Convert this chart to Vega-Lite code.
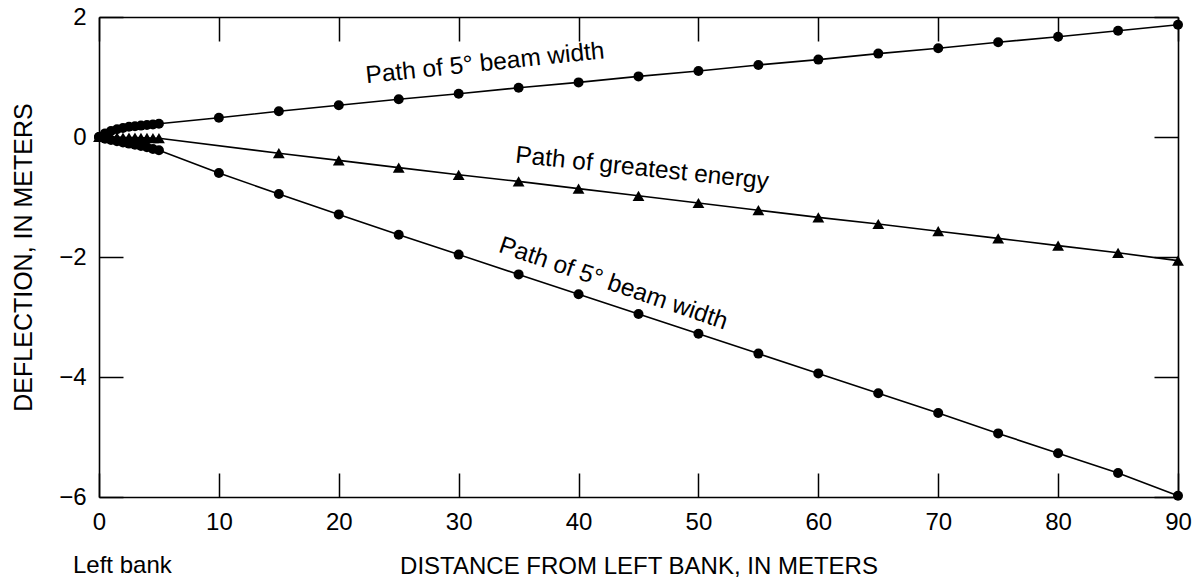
{
  "$schema": "https://vega.github.io/schema/vega-lite/v6.json",
  "width": 1079,
  "height": 480,
  "autosize": "none",
  "padding": {"left": 99, "top": 17, "right": 18, "bottom": 82},
  "background": "white",
  "config": {
    "view": {"stroke": null},
    "font": "Liberation Sans",
    "axis": {
      "domainColor": "black",
      "domainWidth": 1.6,
      "tickColor": "black",
      "tickWidth": 1.5,
      "grid": false,
      "labelColor": "black",
      "titleColor": "black",
      "labelFont": "Liberation Sans",
      "titleFont": "Liberation Sans",
      "labelFontSize": 24,
      "titleFontSize": 24,
      "titleFontWeight": "normal"
    }
  },
  "datasets": {
    "paths": [
      {"series": "upper", "distance": 0, "deflection": 0},
      {"series": "upper", "distance": 0.5, "deflection": 0.06},
      {"series": "upper", "distance": 1, "deflection": 0.1},
      {"series": "upper", "distance": 1.5, "deflection": 0.13},
      {"series": "upper", "distance": 2, "deflection": 0.15},
      {"series": "upper", "distance": 2.5, "deflection": 0.17},
      {"series": "upper", "distance": 3, "deflection": 0.18},
      {"series": "upper", "distance": 3.5, "deflection": 0.19},
      {"series": "upper", "distance": 4, "deflection": 0.2},
      {"series": "upper", "distance": 4.5, "deflection": 0.21},
      {"series": "upper", "distance": 5, "deflection": 0.22},
      {"series": "upper", "distance": 10, "deflection": 0.32},
      {"series": "upper", "distance": 15, "deflection": 0.43},
      {"series": "upper", "distance": 20, "deflection": 0.53},
      {"series": "upper", "distance": 25, "deflection": 0.63},
      {"series": "upper", "distance": 30, "deflection": 0.72},
      {"series": "upper", "distance": 35, "deflection": 0.82},
      {"series": "upper", "distance": 40, "deflection": 0.91},
      {"series": "upper", "distance": 45, "deflection": 1.01},
      {"series": "upper", "distance": 50, "deflection": 1.1},
      {"series": "upper", "distance": 55, "deflection": 1.2},
      {"series": "upper", "distance": 60, "deflection": 1.29},
      {"series": "upper", "distance": 65, "deflection": 1.39},
      {"series": "upper", "distance": 70, "deflection": 1.48},
      {"series": "upper", "distance": 75, "deflection": 1.58},
      {"series": "upper", "distance": 80, "deflection": 1.67},
      {"series": "upper", "distance": 85, "deflection": 1.77},
      {"series": "upper", "distance": 90, "deflection": 1.87},
      {"series": "energy", "distance": 0, "deflection": 0},
      {"series": "energy", "distance": 0.5, "deflection": 0},
      {"series": "energy", "distance": 1, "deflection": -0.005},
      {"series": "energy", "distance": 1.5, "deflection": -0.005},
      {"series": "energy", "distance": 2, "deflection": -0.01},
      {"series": "energy", "distance": 2.5, "deflection": -0.01},
      {"series": "energy", "distance": 3, "deflection": -0.01},
      {"series": "energy", "distance": 3.5, "deflection": -0.015},
      {"series": "energy", "distance": 4, "deflection": -0.015},
      {"series": "energy", "distance": 4.5, "deflection": -0.02},
      {"series": "energy", "distance": 5, "deflection": -0.02},
      {"series": "energy", "distance": 15, "deflection": -0.27},
      {"series": "energy", "distance": 20, "deflection": -0.39},
      {"series": "energy", "distance": 25, "deflection": -0.51},
      {"series": "energy", "distance": 30, "deflection": -0.63},
      {"series": "energy", "distance": 35, "deflection": -0.74},
      {"series": "energy", "distance": 40, "deflection": -0.86},
      {"series": "energy", "distance": 45, "deflection": -0.98},
      {"series": "energy", "distance": 50, "deflection": -1.1},
      {"series": "energy", "distance": 55, "deflection": -1.22},
      {"series": "energy", "distance": 60, "deflection": -1.34},
      {"series": "energy", "distance": 65, "deflection": -1.45},
      {"series": "energy", "distance": 70, "deflection": -1.57},
      {"series": "energy", "distance": 75, "deflection": -1.69},
      {"series": "energy", "distance": 80, "deflection": -1.81},
      {"series": "energy", "distance": 85, "deflection": -1.93},
      {"series": "energy", "distance": 90, "deflection": -2.06},
      {"series": "lower", "distance": 0, "deflection": 0},
      {"series": "lower", "distance": 0.5, "deflection": -0.03},
      {"series": "lower", "distance": 1, "deflection": -0.05},
      {"series": "lower", "distance": 1.5, "deflection": -0.07},
      {"series": "lower", "distance": 2, "deflection": -0.09},
      {"series": "lower", "distance": 2.5, "deflection": -0.11},
      {"series": "lower", "distance": 3, "deflection": -0.13},
      {"series": "lower", "distance": 3.5, "deflection": -0.15},
      {"series": "lower", "distance": 4, "deflection": -0.17},
      {"series": "lower", "distance": 4.5, "deflection": -0.2},
      {"series": "lower", "distance": 5, "deflection": -0.22},
      {"series": "lower", "distance": 10, "deflection": -0.6},
      {"series": "lower", "distance": 15, "deflection": -0.95},
      {"series": "lower", "distance": 20, "deflection": -1.29},
      {"series": "lower", "distance": 25, "deflection": -1.63},
      {"series": "lower", "distance": 30, "deflection": -1.96},
      {"series": "lower", "distance": 35, "deflection": -2.29},
      {"series": "lower", "distance": 40, "deflection": -2.62},
      {"series": "lower", "distance": 45, "deflection": -2.95},
      {"series": "lower", "distance": 50, "deflection": -3.28},
      {"series": "lower", "distance": 55, "deflection": -3.61},
      {"series": "lower", "distance": 60, "deflection": -3.94},
      {"series": "lower", "distance": 65, "deflection": -4.27},
      {"series": "lower", "distance": 70, "deflection": -4.6},
      {"series": "lower", "distance": 75, "deflection": -4.94},
      {"series": "lower", "distance": 80, "deflection": -5.27},
      {"series": "lower", "distance": 85, "deflection": -5.6},
      {"series": "lower", "distance": 90, "deflection": -5.98}
    ],
    "labels": [
      {"key": "upper", "distance": 32.2, "deflection": 1.22, "text": "Path of 5° beam width"},
      {"key": "energy", "distance": 45.3, "deflection": -0.53, "text": "Path of greatest energy"},
      {"key": "lower", "distance": 42.9, "deflection": -2.45, "text": "Path of 5° beam width"},
      {"key": "bank", "distance": 0, "deflection": -6, "text": "Left  bank"}
    ]
  },
  "layer": [
    {
      "data": {"name": "paths"},
      "mark": {"type": "line", "color": "black", "strokeWidth": 1.6},
      "encoding": {
        "x": {
          "field": "distance", "type": "quantitative",
          "scale": {"domain": [0, 90], "nice": false, "zero": false},
          "axis": {
            "orient": "bottom",
            "title": "DISTANCE FROM LEFT BANK, IN METERS",
            "values": [0, 10, 20, 30, 40, 50, 60, 70, 80, 90],
            "tickSize": -24,
            "labelPadding": 37,
            "labelFlush": false,
            "labelOverlap": false,
            "titlePadding": 20
          }
        },
        "y": {
          "field": "deflection", "type": "quantitative",
          "scale": {"domain": [-6, 2], "nice": false, "zero": false},
          "axis": {
            "orient": "left",
            "title": "DEFLECTION, IN METERS",
            "titleFontSize": 25,
            "values": [-6, -4, -2, 0, 2],
            "tickSize": -24,
            "labelPadding": 37,
            "labelFlush": false,
            "labelOverlap": false,
            "titlePadding": 22
          }
        },
        "detail": {"field": "series", "type": "nominal"}
      }
    },
    {
      "data": {"name": "paths"},
      "transform": [{"filter": "datum.series !== 'energy'"}],
      "mark": {"type": "point", "shape": "circle", "filled": true, "color": "black", "opacity": 1, "size": 100},
      "encoding": {
        "x": {
          "field": "distance", "type": "quantitative",
          "scale": {"domain": [0, 90], "nice": false, "zero": false},
          "axis": {"orient": "top", "title": null, "labels": false, "values": [0, 10, 20, 30, 40, 50, 60, 70, 80, 90], "tickSize": -24}
        },
        "y": {
          "field": "deflection", "type": "quantitative",
          "scale": {"domain": [-6, 2], "nice": false, "zero": false},
          "axis": {"orient": "right", "title": null, "labels": false, "values": [-6, -4, -2, 0, 2], "tickSize": -24}
        }
      }
    },
    {
      "data": {"name": "paths"},
      "transform": [{"filter": "datum.series === 'energy'"}],
      "mark": {"type": "point", "shape": "triangle-up", "filled": true, "color": "black", "opacity": 1, "size": 140},
      "encoding": {
        "x": {"field": "distance", "type": "quantitative", "axis": null},
        "y": {"field": "deflection", "type": "quantitative", "axis": null}
      }
    },
    {
      "data": {"name": "labels"},
      "transform": [{"filter": "datum.key === 'upper'"}],
      "mark": {"type": "text", "angle": -6, "align": "center", "baseline": "middle", "fontSize": 24.5, "font": "Liberation Sans", "color": "black"},
      "encoding": {
        "x": {"field": "distance", "type": "quantitative", "axis": null},
        "y": {"field": "deflection", "type": "quantitative", "axis": null},
        "text": {"field": "text"}
      }
    },
    {
      "data": {"name": "labels"},
      "transform": [{"filter": "datum.key === 'energy'"}],
      "mark": {"type": "text", "angle": 6, "align": "center", "baseline": "middle", "fontSize": 24.5, "font": "Liberation Sans", "color": "black"},
      "encoding": {
        "x": {"field": "distance", "type": "quantitative", "axis": null},
        "y": {"field": "deflection", "type": "quantitative", "axis": null},
        "text": {"field": "text"}
      }
    },
    {
      "data": {"name": "labels"},
      "transform": [{"filter": "datum.key === 'lower'"}],
      "mark": {"type": "text", "angle": 19, "align": "center", "baseline": "middle", "fontSize": 24.5, "font": "Liberation Sans", "color": "black"},
      "encoding": {
        "x": {"field": "distance", "type": "quantitative", "axis": null},
        "y": {"field": "deflection", "type": "quantitative", "axis": null},
        "text": {"field": "text"}
      }
    },
    {
      "data": {"name": "labels"},
      "transform": [{"filter": "datum.key === 'bank'"}],
      "mark": {"type": "text", "align": "left", "baseline": "alphabetic", "dx": -26, "dy": 76, "fontSize": 24, "font": "Liberation Sans", "color": "black"},
      "encoding": {
        "x": {"field": "distance", "type": "quantitative", "axis": null},
        "y": {"field": "deflection", "type": "quantitative", "axis": null},
        "text": {"field": "text"}
      }
    }
  ],
  "resolve": {"axis": {"x": "independent", "y": "independent"}}
}
